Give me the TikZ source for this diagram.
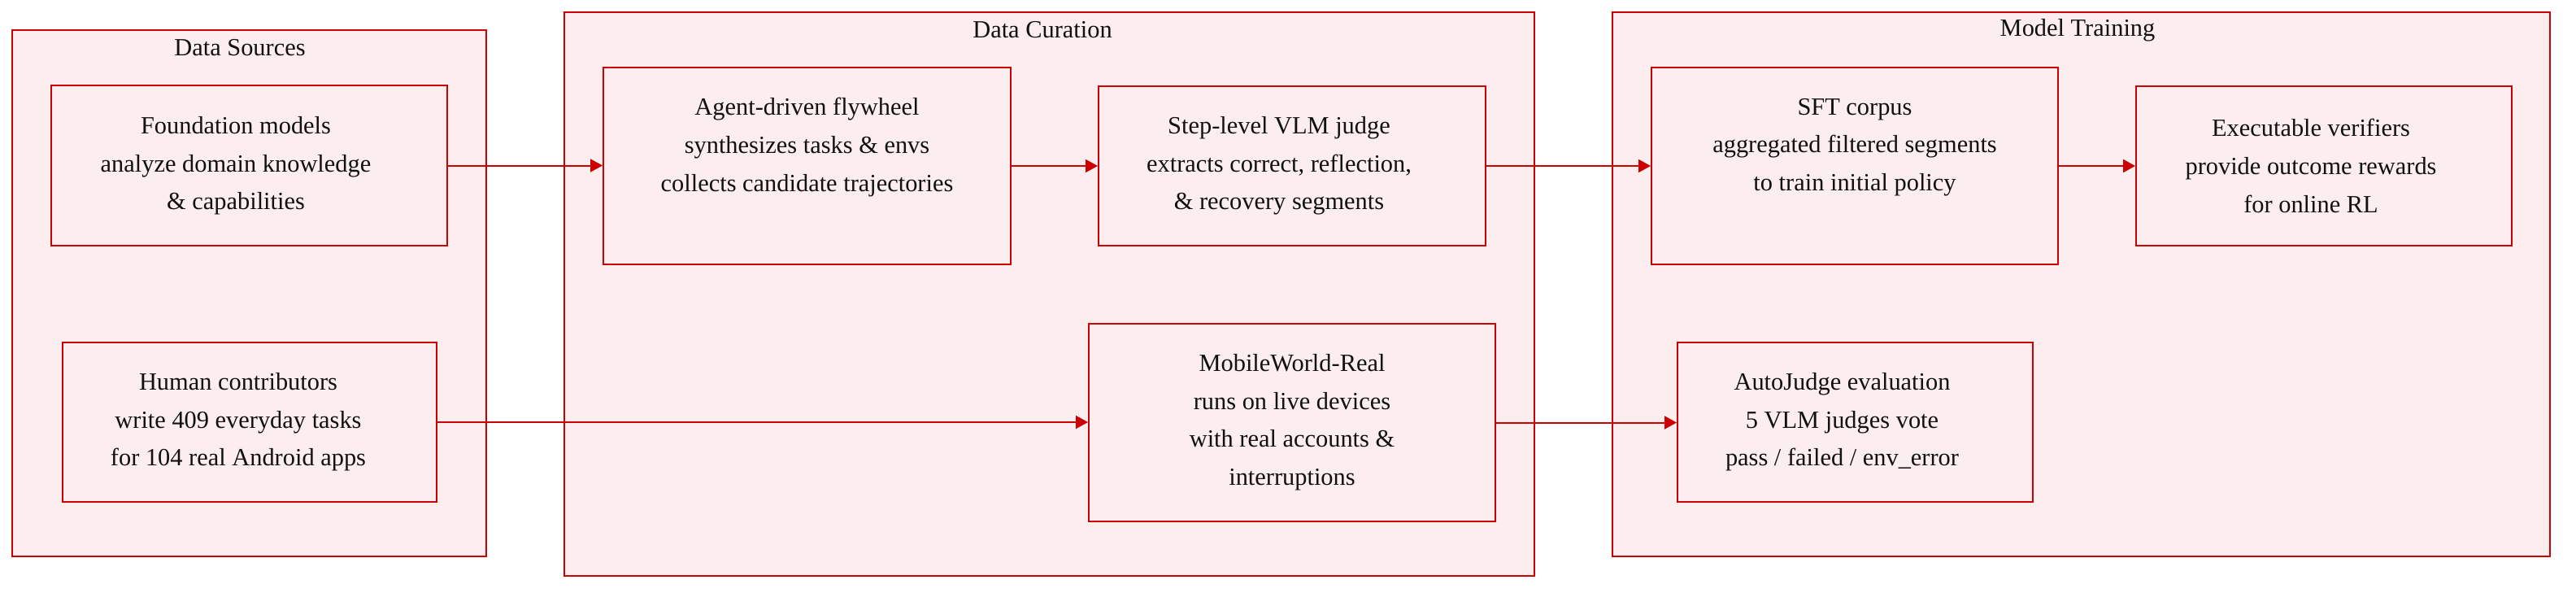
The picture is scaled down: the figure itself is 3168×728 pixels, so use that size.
\documentclass[tikz,border=0pt]{standalone}
\usepackage{fontspec}
\setmainfont{Liberation Serif}
\usetikzlibrary{arrows.meta}
\definecolor{boxfill}{HTML}{FCEEEE}
\definecolor{boxline}{HTML}{CC0000}
\definecolor{txt}{HTML}{111111}
\begin{document}
\begin{tikzpicture}[x=0.5pt,y=-0.5pt,
  stepbox/.style={draw=boxline,fill=boxfill,line width=1pt,rectangle,inner sep=0pt},
  lbl/.style={align=center,font=\fontsize{15.2}{23.3}\selectfont,text=txt,inner sep=0pt},
  flow/.style={draw=boxline,line width=1pt,-{Triangle[length=7.5pt,width=8pt]}}]
\fill[white] (0,0) rectangle (3168,728);
\useasboundingbox (0,0) rectangle (3168,728);
% clusters
\node[stepbox,minimum width=291.5pt,minimum height=323.5pt] (ds) at (306.5,360.5) {};
\node[stepbox,minimum width=596.5pt,minimum height=346.5pt] (dc) at (1290.5,361.5) {};
\node[stepbox,minimum width=576.5pt,minimum height=334.5pt] (mt) at (2559.5,349.5) {};
\node[lbl] (dst) at (295,59) {Data Sources};
\node[lbl] (dct) at (1282,37) {Data Curation};
\node[lbl] (mtt) at (2555,37) {Model Training};
% boxes
\node[stepbox,minimum width=243.5pt,minimum height=98.5pt] (fm) at (306.5,203.5) {};
\node[stepbox,minimum width=230pt,minimum height=98pt] (hc) at (307,519) {};
\node[stepbox,minimum width=250.5pt,minimum height=121pt] (ag) at (992.5,204) {};
\node[stepbox,minimum width=238pt,minimum height=98pt] (sl) at (1589,204) {};
\node[stepbox,minimum width=250pt,minimum height=121.5pt] (mw) at (1589,519.5) {};
\node[stepbox,minimum width=250pt,minimum height=121pt] (sft) at (2281,204) {};
\node[stepbox,minimum width=231pt,minimum height=98pt] (ev) at (2858,204) {};
\node[stepbox,minimum width=218.5pt,minimum height=98pt] (aj) at (2281.5,519) {};
% texts
\node[lbl] (fmt) at (290,204) {Foundation models\\analyze domain knowledge\\\& capabilities};
\node[lbl] (hct) at (293,519) {Human contributors\\write 409 everyday tasks\\for 104 real Android apps};
\node[lbl] (agt) at (992.5,181) {Agent-driven flywheel\\synthesizes tasks \& envs\\collects candidate trajectories};
\node[lbl] (slt) at (1573,204) {Step-level VLM judge\\extracts correct, reflection,\\\& recovery segments};
\node[lbl] (mwt) at (1589,519) {MobileWorld-Real\\runs on live devices\\with real accounts \&\\interruptions};
\node[lbl] (sftt) at (2281,181) {SFT corpus\\aggregated filtered segments\\to train initial policy};
\node[lbl] (evt) at (2842,204) {Executable verifiers\\provide outcome rewards\\for online RL};
\node[lbl] (ajt) at (2265.5,519) {AutoJudge evaluation\\5 VLM judges vote\\pass / failed / env\_error};
% connectors
\draw[flow] (fm.east) -- (fm.east -| ag.west);
\draw[flow] (ag.east) -- (ag.east -| sl.west);
\draw[flow] (sl.east) -- (sl.east -| sft.west);
\draw[flow] (sft.east) -- (sft.east -| ev.west);
\draw[flow] (hc.east) -- (hc.east -| mw.west);
\draw[flow] (mw.east) -- (mw.east -| aj.west);
\end{tikzpicture}
\end{document}
